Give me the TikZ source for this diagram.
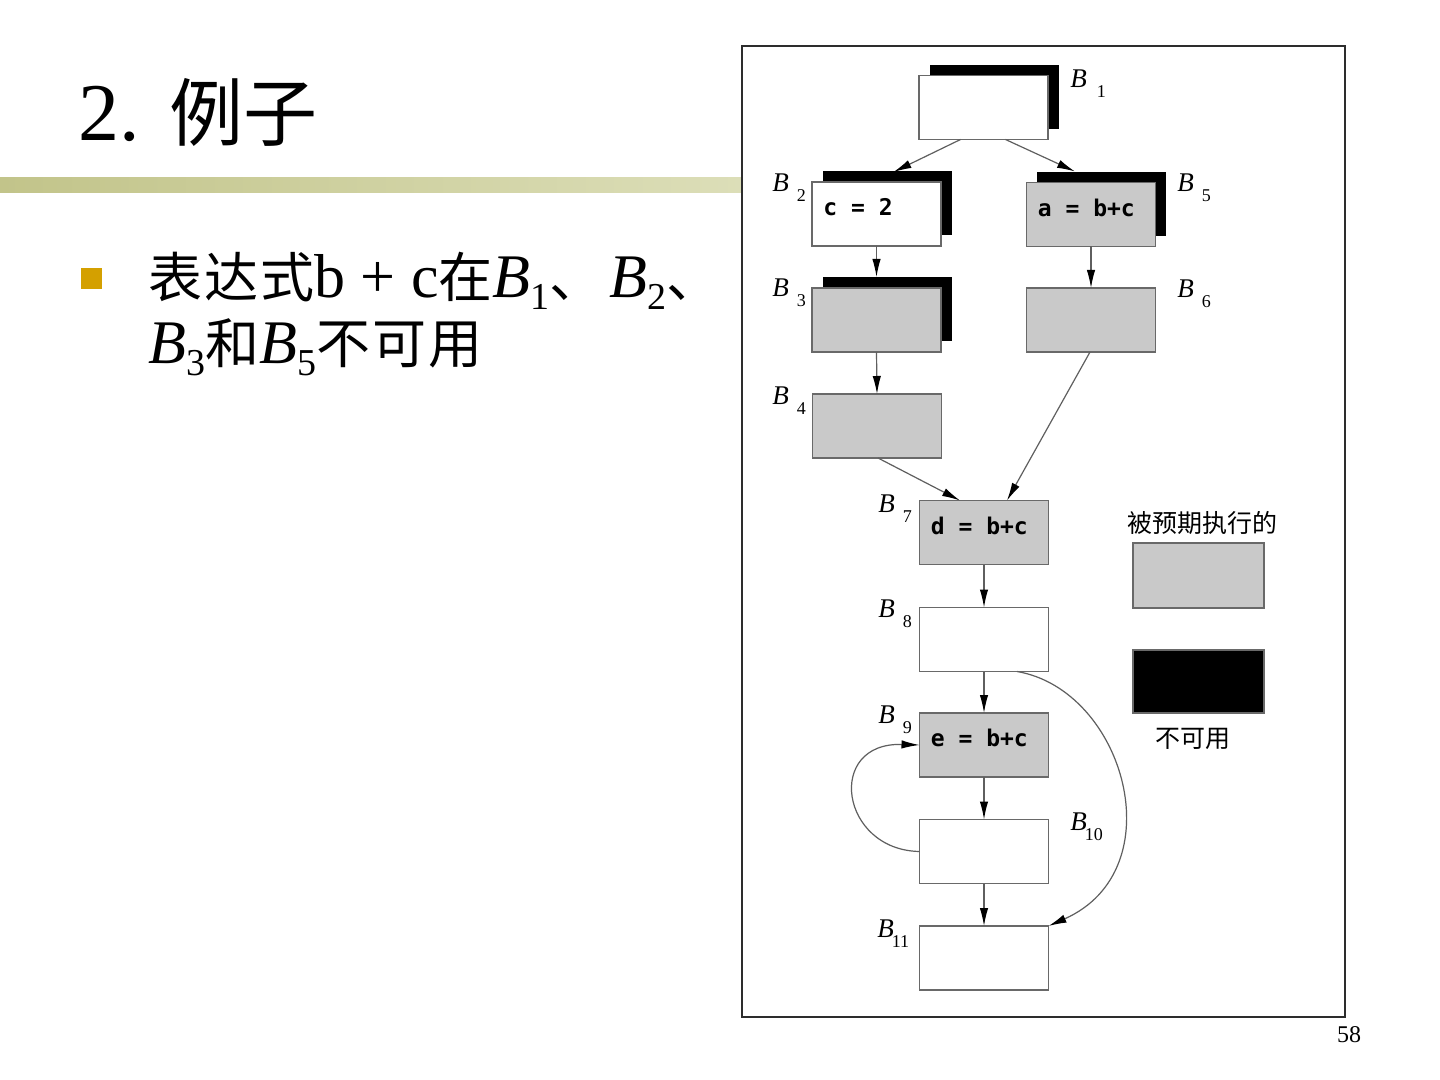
\documentclass[tikz,border=0pt]{standalone}
\usepackage{fontspec}
\setmainfont{Liberation Serif}
\newfontfamily\cjk{Noto Sans CJK SC}
\newfontfamily\codefont{DejaVu Sans Mono}
\usetikzlibrary{arrows.meta,shadows}
\definecolor{boxgray}{RGB}{201,201,201}
\definecolor{edgegray}{RGB}{95,95,95}
\definecolor{bordergray}{RGB}{105,105,105}
\definecolor{barleft}{RGB}{194,196,138}
\definecolor{barright}{RGB}{220,222,184}
\definecolor{bulletgold}{RGB}{212,160,0}
\definecolor{framegray}{RGB}{45,45,45}
\newcommand{\blab}[2]{\textit{B}\hspace{#2}\raisebox{-5pt}{\fontsize{9}{9}\selectfont #1}}
\newcommand{\tsub}[1]{\raisebox{-6pt}{\fontsize{19}{19}\selectfont #1}}
\newcommand{\zh}[1]{{\cjk\fontsize{27}{27}\selectfont #1}}
\tikzset{
  blk/.style={draw=bordergray, line width=0.7pt, minimum width=64.5pt, minimum height=32pt, inner sep=0pt, outer sep=0pt, fill=white},
  grayblk/.style={blk, fill=boxgray},
  killed/.style={general shadow={fill=black, draw=none, shadow xshift=5.25pt, shadow yshift=5.25pt}},
  flow/.style={draw=edgegray, line width=0.6pt, -{Latex[length=9pt,width=4.2pt,color=black]}},
  blabel/.style={anchor=base west, inner sep=0pt, font=\fontsize{13.5}{13.5}\selectfont},
  code/.style={anchor=west, inner sep=0pt, font=\codefont\bfseries\fontsize{11.5}{12}\selectfont},
  legtext/.style={inner sep=0pt, font=\cjk\fontsize{12.5}{13}\selectfont}
}
\begin{document}
\begin{tikzpicture}[x=0.5pt,y=-0.5pt]
\useasboundingbox (0,0) rectangle (1440,1080);
\fill[white] (0,0) rectangle (1440,1080);
% title bar
\shade[left color=barleft, right color=barright] (0,178) rectangle (742,193);
% title
\node[anchor=base west, inner sep=0pt, font=\fontsize{41}{41}\selectfont] (title) at (78,141) {2.\hspace{15pt}{\cjk\fontsize{37}{37}\selectfont 例子}};
% bullet
\node[fill=bulletgold, minimum size=10.5pt, inner sep=0pt] (bullet) at (91,278.5) {};
\node[anchor=base west, inner sep=0pt, font=\fontsize{31}{31}\selectfont] (bl1) at (148,298)
  {\zh{表\hspace{1pt}达\hspace{1pt}式}b + c\zh{在}\textit{B}\tsub{1}\zh{、}\hspace{3pt}\textit{B}\tsub{2}\zh{、}};
\node[anchor=base west, inner sep=0pt, font=\fontsize{31}{31}\selectfont] (bl2) at (148,364)
  {\textit{B}\tsub{3}\zh{和}\textit{B}\tsub{5}\zh{不\hspace{1pt}可\hspace{1pt}用}};
% frame
\draw[framegray, line width=1pt] (742,46) rectangle (1345,1017);
% blocks
\node[blk, killed] (B1) at (983.5,107.5) {};
\node[blk, killed] (B2) at (876.5,214) {};
\node[grayblk, killed] (B5) at (1091,214.5) {};
\node[grayblk, killed] (B3) at (876.5,320) {};
\node[grayblk] (B6) at (1091,320) {};
\node[grayblk] (B4) at (877,426) {};
\node[grayblk] (B7) at (984,532.5) {};
\node[blk] (B8) at (984,639.5) {};
\node[grayblk] (B9) at (984,745) {};
\node[blk] (B10) at (984,851.5) {};
\node[blk] (B11) at (984,958) {};
% code
\node[code] (c2) at ([shift={(11,-7)}]B2.west) {c = 2};
\node[code] (c5) at ([shift={(11,-7)}]B5.west) {a = b+c};
\node[code] (c7) at ([shift={(11,-7)}]B7.west) {d = b+c};
\node[code] (c9) at ([shift={(11,-7)}]B9.west) {e = b+c};
% labels
\node[blabel] (l1) at (1070,88) {\blab{1}{5pt}};
\node[blabel] (l2) at (772,192) {\blab{2}{4pt}};
\node[blabel] (l5) at (1177,192) {\blab{5}{4pt}};
\node[blabel] (l3) at (772,297) {\blab{3}{4pt}};
\node[blabel] (l6) at (1177,298) {\blab{6}{4pt}};
\node[blabel] (l4) at (772,405) {\blab{4}{4pt}};
\node[blabel] (l7) at (878,512) {\blab{7}{4pt}};
\node[blabel] (l8) at (878,617) {\blab{8}{4pt}};
\node[blabel] (l9) at (878,723) {\blab{9}{4pt}};
\node[blabel] (l10) at (1070,830) {\blab{10}{-1pt}};
\node[blabel] (l11) at (877,937) {\blab{11}{-1pt}};
% edges
\draw[flow] ([shift={(-23,0)}]B1.south) -- ([shift={(17,-10)}]B2.north);
\draw[flow] ([shift={(22,0)}]B1.south) -- ([shift={(-16,-11)}]B5.north);
\draw[flow] (B2.south) -- ([shift={(0,-11)}]B3.north);
\draw[flow] (B5.south) -- (B6.north);
\draw[flow] (B3.south) -- (B4.north);
\draw[flow] ([shift={(1,0)}]B4.south) -- ([shift={(-24,0)}]B7.north);
\draw[flow] ([shift={(-1,0)}]B6.south) -- ([shift={(23,0)}]B7.north);
\draw[flow] (B7.south) -- (B8.north);
\draw[flow] (B8.south) -- (B9.north);
\draw[flow] (B9.south) -- (B10.north);
\draw[flow] (B10.south) -- (B11.north);
\draw[flow] (B10.west) .. controls (840,850) and (825,742) .. (B9.west);
\draw[flow] ([shift={(33,0)}]B8.south) .. controls (1125,690) and (1175,870) .. (B11.north east);
% legend
\node[legtext] (lt1) at (1202,523) {被预期执行的};
\node[grayblk, minimum width=65.5pt, minimum height=32.5pt] (leg1) at (1198.5,575.5) {};
\node[blk, fill=black, minimum width=65.5pt, minimum height=31.5pt] (leg2) at (1198.5,681.5) {};
\node[legtext] (lt2) at (1193,739) {不可用};
% page number
\node[inner sep=0pt, font=\fontsize{12}{12}\selectfont] (pg) at (1349,1035) {58};
\end{tikzpicture}
\end{document}
